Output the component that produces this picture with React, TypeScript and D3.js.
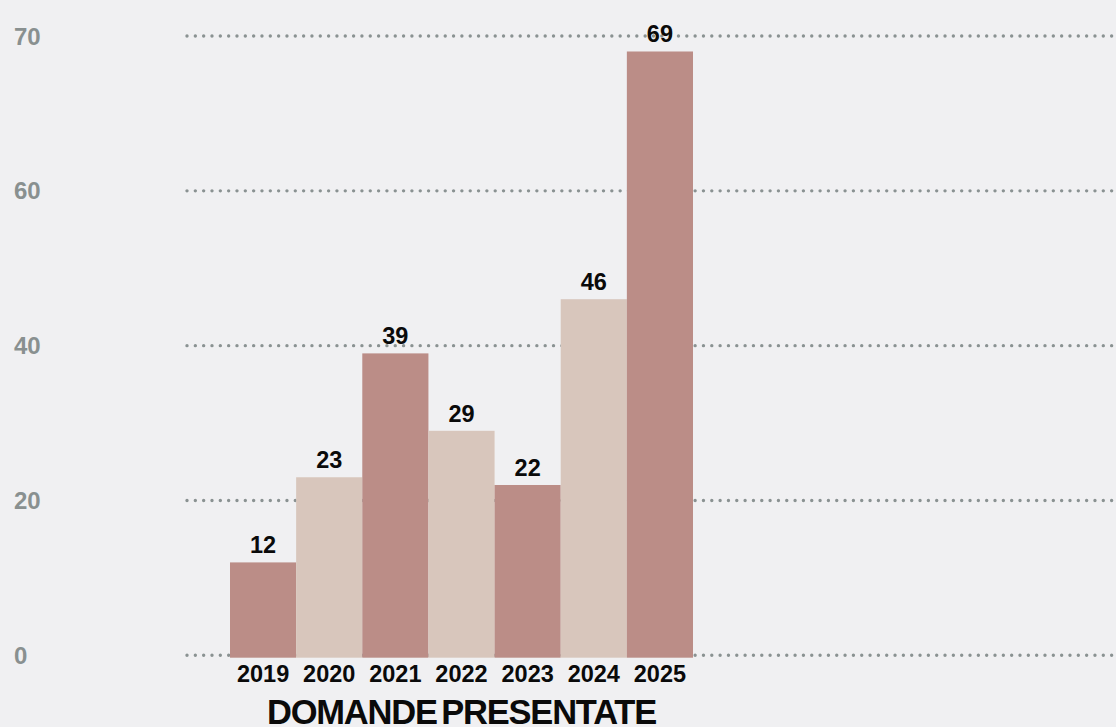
import React from "react";
import * as d3 from "d3";

const years: string[] = ["2019", "2020", "2021", "2022", "2023", "2024", "2025"];
const domande: number[] = [12, 23, 39, 29, 22, 46, 69];
const yTicks: number[] = [0, 20, 40, 60, 70];
const title = "DOMANDE PRESENTATE";

const W = 1116;
const H = 727;
const BG = "#f0f0f2";
const DARK = "#bb8d87";
const LIGHT = "#d8c6bc";
const GRID = "#8a9292";
const FONT = "'Liberation Sans', Arial, Helvetica, sans-serif";

export default function App() {
  const yTop = 36;
  const yBottom = 655.3;
  const step = (yBottom - yTop) / (yTicks.length - 1);
  const y = d3
    .scaleLinear()
    .domain(yTicks)
    .range(yTicks.map((_, i) => yBottom - i * step));

  const x = d3.scaleBand<string>().domain(years).range([230, 693]).padding(0);
  const color = d3.scaleOrdinal<string, string>().domain(years).range([DARK, LIGHT]);

  const baseExtra = 2.4;

  return (
    <div style={{ position: "fixed", left: 0, top: 0, width: W, height: H, background: BG }}>
      <svg width={W} height={H} style={{ display: "block" }}>
        <rect x={0} y={0} width={W} height={H} fill={BG} />
        {yTicks.map((t) => (
          <g key={"g" + t}>
            <line
              x1={187}
              x2={W + 10}
              y1={y(t)}
              y2={y(t)}
              stroke={GRID}
              strokeWidth={3.4}
              strokeLinecap="round"
              strokeDasharray="0 8.33"
            />
            <text
              x={14}
              y={y(t)}
              dy="0.36em"
              fontFamily={FONT}
              fontWeight={700}
              fontSize={24}
              fill="#899090"
            >
              {t}
            </text>
          </g>
        ))}
        {years.map((yr, i) => {
          const v = domande[i];
          const x0 = x(yr) as number;
          const bw = x.bandwidth();
          const top = y(v);
          return (
            <g key={yr}>
              <rect x={x0} y={top} width={bw} height={y(0) - top + baseExtra} fill={color(yr)} />
              <text
                x={x0 + bw / 2}
                y={top - 9}
                textAnchor="middle"
                fontFamily={FONT}
                fontWeight={700}
                fontSize={23.5}
                fill="#0a0a0a"
              >
                {v}
              </text>
              <text
                x={x0 + bw / 2}
                y={682}
                textAnchor="middle"
                fontFamily={FONT}
                fontWeight={700}
                fontSize={23.5}
                fill="#0a0a0a"
              >
                {yr}
              </text>
            </g>
          );
        })}
        <text
          x={(230 + 693) / 2}
          y={724}
          textAnchor="middle"
          fontFamily={FONT}
          fontWeight={700}
          fontSize={34.5}
          letterSpacing={-1.2}
          wordSpacing={-4}
          fill="#0a0a0a"
        >
          {title}
        </text>
      </svg>
    </div>
  );
}
